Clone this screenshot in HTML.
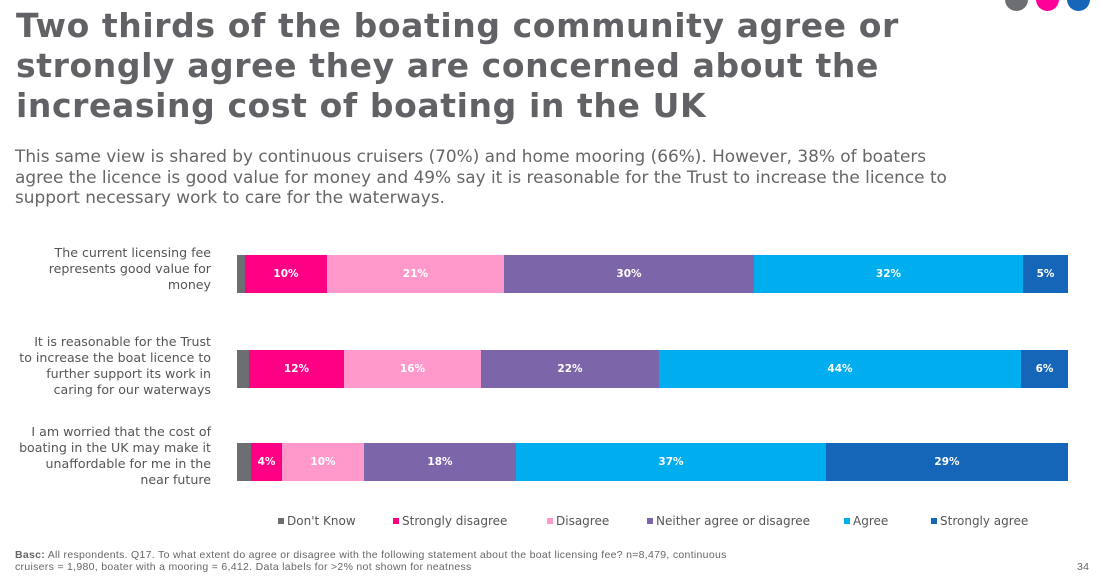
<!DOCTYPE html>
<html><head><style>
body{margin:0;width:1100px;height:588px;background:#fff;overflow:hidden;position:relative;font-family:"DejaVu Sans",Verdana,sans-serif;color:#666}
.c{position:absolute;width:23px;height:23px;border-radius:50%;top:-12px}
h1{position:absolute;left:16px;top:6px;margin:0;font-size:33px;line-height:40px;font-weight:bold;color:#626266;letter-spacing:0.6px;white-space:nowrap}
.sub{position:absolute;left:15px;top:146px;font-size:16.9px;line-height:20.5px;color:#666;white-space:nowrap}
.lab{position:absolute;right:889px;width:230px;text-align:right;font-size:12.6px;line-height:16px;color:#555}
.bar{position:absolute;left:237px;width:831px;height:38px;display:flex}
.bar div{height:100%;color:#fff;font-size:10.5px;font-weight:bold;display:flex;align-items:center;justify-content:center}
.leg{position:absolute;top:514px;font-size:12px;color:#555}
.leg span{display:inline-block;width:6px;height:6px;margin-right:3px;vertical-align:1px}
.foot{position:absolute;left:15px;top:549px;font-family:"Liberation Sans",sans-serif;font-size:10.5px;line-height:12px;color:#666;white-space:nowrap;letter-spacing:0.3px}
</style></head><body>
<div class="c" style="left:1005px;background:#6d6e71"></div>
<div class="c" style="left:1036px;background:#ff0099"></div>
<div class="c" style="left:1067px;background:#1565b8"></div>
<h1>Two thirds of the boating community agree or<br>strongly agree they are concerned about the<br>increasing cost of boating in the UK</h1>
<div class="sub">This same view is shared by continuous cruisers (70%) and home mooring (66%). However, 38% of boaters<br>agree the licence is good value for money and 49% say it is reasonable for the Trust to increase the licence to<br>support necessary work to care for the waterways.</div>

<div class="lab" style="top:245px">The current licensing fee<br>represents good value for<br>money</div>
<div class="lab" style="top:334px">It is reasonable for the Trust<br>to increase the boat licence to<br>further support its work in<br>caring for our waterways</div>
<div class="lab" style="top:424px">I am worried that the cost of<br>boating in the UK may make it<br>unaffordable for me in the<br>near future</div>

<div class="bar" style="top:255px">
<div style="width:8px;background:#6d6e71"></div><div style="width:82px;background:#ff0084">10%</div><div style="width:177px;background:#ff99cc">21%</div><div style="width:250px;background:#7c65a9">30%</div><div style="width:269px;background:#00adee">32%</div><div style="width:45px;background:#1565b8">5%</div></div>
<div class="bar" style="top:350px">
<div style="width:12px;background:#6d6e71"></div><div style="width:95px;background:#ff0084">12%</div><div style="width:137px;background:#ff99cc">16%</div><div style="width:178px;background:#7c65a9">22%</div><div style="width:362px;background:#00adee">44%</div><div style="width:47px;background:#1565b8">6%</div></div>
<div class="bar" style="top:443px">
<div style="width:14px;background:#6d6e71"></div><div style="width:31px;background:#ff0084">4%</div><div style="width:82px;background:#ff99cc">10%</div><div style="width:152px;background:#7c65a9">18%</div><div style="width:310px;background:#00adee">37%</div><div style="width:242px;background:#1565b8">29%</div></div>

<div class="leg" style="left:278px"><span style="background:#6d6e71"></span>Don't Know</div>
<div class="leg" style="left:393px"><span style="background:#ff0084"></span>Strongly disagree</div>
<div class="leg" style="left:547px"><span style="background:#ff99cc"></span>Disagree</div>
<div class="leg" style="left:647px"><span style="background:#7c65a9"></span>Neither agree or disagree</div>
<div class="leg" style="left:844px"><span style="background:#00adee"></span>Agree</div>
<div class="leg" style="left:931px"><span style="background:#1565b8"></span>Strongly agree</div>

<div class="foot"><b>Basc:</b> All respondents. Q17. To what extent do agree or disagree with the following statement about the boat licensing fee? n=8,479, continuous<br>cruisers = 1,980, boater with a mooring = 6,412. Data labels for &gt;2% not shown for neatness</div>
<div class="foot" style="left:1077px;top:561px">34</div>
</body></html>
